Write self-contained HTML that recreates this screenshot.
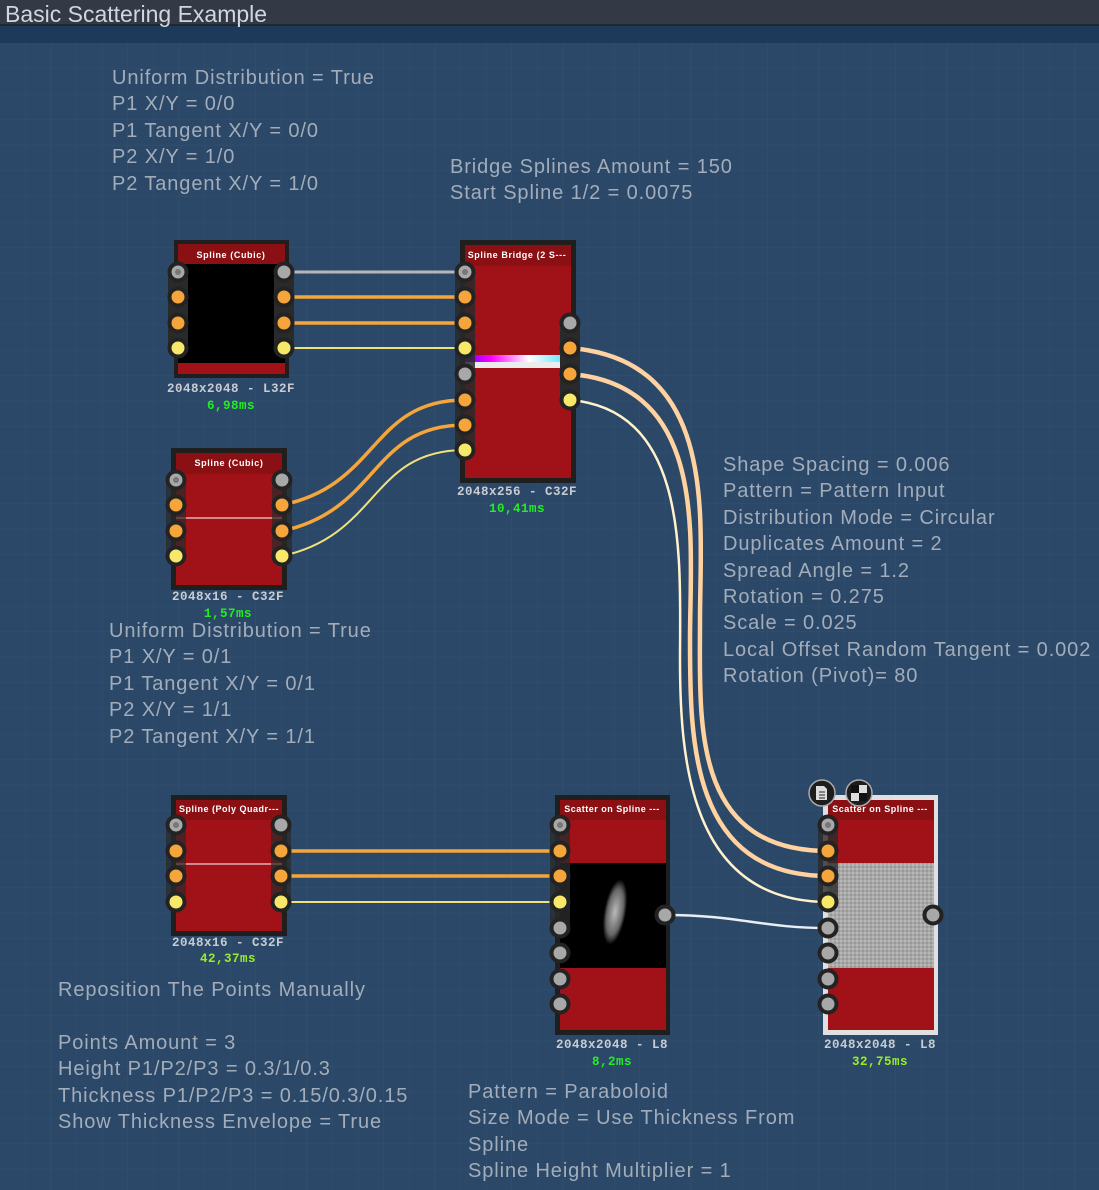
<!DOCTYPE html>
<html><head><meta charset="utf-8"><style>
body{margin:0;width:1099px;height:1190px;overflow:hidden;background:#2b4868;font-family:"Liberation Sans",sans-serif}
.t{position:absolute;color:#a3adba;font-size:20px;line-height:26.4px;letter-spacing:0.9px;white-space:pre;font-weight:300}
</style></head><body>
<svg width="1099" height="1190" style="position:absolute;left:0;top:0">
<defs>
<pattern id="g" width="25.6" height="25.6" patternUnits="userSpaceOnUse" x="0" y="43"><path d="M25.6 0V25.6H0" fill="none" stroke="#33516f" stroke-width="1"/></pattern>
<linearGradient id="rb" x1="0" x2="1"><stop offset="0" stop-color="#6a00ff"/><stop offset="0.25" stop-color="#ff00ff"/><stop offset="0.6" stop-color="#ffffff"/><stop offset="1" stop-color="#40e0ff"/></linearGradient>
<radialGradient id="blob" cx="0.5" cy="0.5" r="0.5"><stop offset="0" stop-color="#bbb"/><stop offset="0.7" stop-color="#666"/><stop offset="1" stop-color="#000"/></radialGradient>
<pattern id="noise" width="4" height="4" patternUnits="userSpaceOnUse"><rect width="4" height="4" fill="#a8a8a8"/><rect width="2" height="2" fill="#b8b8b8"/><rect x="2" y="2" width="2" height="2" fill="#999"/></pattern>
</defs>
<rect width="1099" height="1190" fill="#2b4868"/>
<rect y="43" width="1099" height="1147" fill="url(#g)"/>
<rect width="1099" height="25" fill="#333a45"/>
<rect y="25" width="1099" height="18" fill="#1d3a5a"/>
<line x1="0" y1="25" x2="1099" y2="25" stroke="#11161d"/>
<text x="5" y="22" font-size="23" fill="#d2d6de" font-family="Liberation Sans">Basic Scattering Example</text>

<g fill="none">
<line x1="284" y1="272" x2="465" y2="272" stroke="#b8b8b8" stroke-width="3"/>
<line x1="284" y1="297" x2="465" y2="297" stroke="#f5a53a" stroke-width="3.5"/>
<line x1="284" y1="323" x2="465" y2="323" stroke="#f5a53a" stroke-width="3.5"/>
<line x1="284" y1="348" x2="465" y2="348" stroke="#f3e07a" stroke-width="2"/>
<path d="M282 505C380 485 370 400 465 400" stroke="#f5a53a" stroke-width="3.5"/>
<path d="M282 531C380 510 370 425 465 425" stroke="#f5a53a" stroke-width="3.5"/>
<path d="M282 556C380 535 370 450 465 450" stroke="#f3e07a" stroke-width="2"/>
<path d="M570 348C720 360 700 520 700 620S690 851 828 851" stroke="#ffd2a0" stroke-width="4.5"/>
<path d="M570 374C710 385 690 540 690 640S690 876 828 876" stroke="#ffd2a0" stroke-width="4.5"/>
<path d="M570 400C690 410 680 560 680 660S690 902 828 902" stroke="#fff2cc" stroke-width="2.5"/>
<line x1="281" y1="851" x2="560" y2="851" stroke="#f5a53a" stroke-width="3.5"/>
<line x1="281" y1="876" x2="560" y2="876" stroke="#f5a53a" stroke-width="3.5"/>
<line x1="281" y1="902" x2="560" y2="902" stroke="#f3e07a" stroke-width="2"/>
<path d="M665 915C740 915 760 928 828 928" stroke="#e8eef5" stroke-width="2.5"/>
</g>

<rect x="174" y="240" width="115" height="138" fill="#1f1f1f"/>
<rect x="178" y="244" width="107" height="130" fill="#a01218"/>
<rect x="178" y="244" width="107" height="20" fill="#8a1014"/>
<rect x="178" y="264" width="107" height="99" fill="#000"/>
<text x="231" y="258" font-size="9" font-weight="bold" fill="#fff" text-anchor="middle" letter-spacing="0.6">Spline (Cubic)</text>
<rect x="168" y="262" width="20" height="96" rx="10" fill="#2a2a2a"/>
<rect x="274" y="262" width="20" height="96" rx="10" fill="#2a2a2a"/>
<rect x="460" y="240" width="116" height="243" fill="#1f1f1f"/>
<rect x="465" y="245" width="106" height="233" fill="#a01218"/>
<rect x="465" y="245" width="106" height="21" fill="#8a1014"/>
<rect x="465" y="355" width="106" height="7" fill="url(#rb)"/>
<rect x="465" y="362" width="106" height="6" fill="#ececec"/>
<text x="517" y="258" font-size="9" font-weight="bold" fill="#fff" text-anchor="middle" letter-spacing="0.6">Spline Bridge (2 S---</text>
<rect x="455" y="262" width="20" height="198" rx="10" fill="#2a2a2a" opacity="0.85"/>
<rect x="560" y="313" width="20" height="97" rx="10" fill="#2a2a2a"/>
<rect x="171" y="448" width="116" height="142" fill="#1f1f1f"/>
<rect x="176" y="453" width="106" height="132" fill="#a01218"/>
<rect x="176" y="453" width="106" height="21" fill="#8a1014"/>
<line x1="176" y1="518" x2="282" y2="518" stroke="#fff" stroke-width="1"/>
<text x="229" y="466" font-size="9" font-weight="bold" fill="#fff" text-anchor="middle" letter-spacing="0.6">Spline (Cubic)</text>
<rect x="166" y="470" width="20" height="96" rx="10" fill="#2a2a2a" opacity="0.7"/>
<rect x="272" y="470" width="20" height="96" rx="10" fill="#2a2a2a" opacity="0.7"/>
<rect x="171" y="795" width="116" height="141" fill="#1f1f1f"/>
<rect x="176" y="800" width="106" height="131" fill="#a01218"/>
<rect x="176" y="800" width="106" height="20" fill="#8a1014"/>
<line x1="176" y1="864" x2="282" y2="864" stroke="#fff" stroke-width="1"/>
<text x="229" y="812" font-size="9" font-weight="bold" fill="#fff" text-anchor="middle" letter-spacing="0.5">Spline (Poly Quadr---</text>
<rect x="166" y="815" width="20" height="97" rx="10" fill="#2a2a2a" opacity="0.7"/>
<rect x="271" y="815" width="20" height="97" rx="10" fill="#2a2a2a" opacity="0.7"/>
<rect x="555" y="795" width="115" height="240" fill="#1f1f1f"/>
<rect x="560" y="800" width="106" height="230" fill="#a01218"/>
<rect x="560" y="800" width="106" height="20" fill="#8a1014"/>
<rect x="560" y="863" width="106" height="105" fill="#000"/>
<ellipse cx="615" cy="912" rx="11" ry="33" fill="url(#blob)" transform="rotate(10 615 912)"/>
<text x="612" y="812" font-size="9" font-weight="bold" fill="#fff" text-anchor="middle" letter-spacing="0.5">Scatter on Spline ---</text>
<rect x="550" y="815" width="20" height="120" rx="10" fill="#2a2a2a" opacity="0.8"/>
<rect x="823" y="795" width="115" height="240" fill="#e0e0e0"/>
<rect x="828" y="800" width="106" height="230" fill="#a01218"/>
<rect x="828" y="800" width="106" height="20" fill="#8a1014"/>
<rect x="828" y="863" width="106" height="105" fill="url(#noise)"/>
<text x="880" y="812" font-size="9" font-weight="bold" fill="#fff" text-anchor="middle" letter-spacing="0.5">Scatter on Spline ---</text>
<rect x="818" y="815" width="20" height="97" rx="10" fill="#2a2a2a" opacity="0.8"/>
<circle cx="822" cy="793" r="13" fill="#1e1e1e" stroke="#aaa" stroke-width="1.5"/>
<path d="M816 786h8l3 3v11h-11z" fill="#ddd"/><path d="M819 792h6M819 795h6M819 798h6" stroke="#222" stroke-width="1"/>
<circle cx="859" cy="793" r="13" fill="#1e1e1e" stroke="#aaa" stroke-width="1.5"/>
<rect x="851" y="785" width="16" height="16" fill="#ddd"/><rect x="851" y="785" width="8" height="8" fill="#111"/><rect x="859" y="793" width="8" height="8" fill="#111"/>

<g stroke="#232323" stroke-width="4">
<circle cx="178" cy="272" r="8.5" fill="#a8a8a8"/><circle cx="178" cy="297" r="8.5" fill="#f5a53a"/><circle cx="178" cy="323" r="8.5" fill="#f5a53a"/><circle cx="178" cy="348" r="8.5" fill="#f8e86a"/>
<circle cx="284" cy="272" r="8.5" fill="#a8a8a8"/><circle cx="284" cy="297" r="8.5" fill="#f5a53a"/><circle cx="284" cy="323" r="8.5" fill="#f5a53a"/><circle cx="284" cy="348" r="8.5" fill="#f8e86a"/>
<circle cx="465" cy="272" r="8.5" fill="#a8a8a8"/><circle cx="465" cy="297" r="8.5" fill="#f5a53a"/><circle cx="465" cy="323" r="8.5" fill="#f5a53a"/><circle cx="465" cy="348" r="8.5" fill="#f8e86a"/>
<circle cx="465" cy="374" r="8.5" fill="#a8a8a8"/><circle cx="465" cy="400" r="8.5" fill="#f5a53a"/><circle cx="465" cy="425" r="8.5" fill="#f5a53a"/><circle cx="465" cy="450" r="8.5" fill="#f8e86a"/>
<circle cx="570" cy="323" r="8.5" fill="#a8a8a8"/><circle cx="570" cy="348" r="8.5" fill="#f5a53a"/><circle cx="570" cy="374" r="8.5" fill="#f5a53a"/><circle cx="570" cy="400" r="8.5" fill="#f8e86a"/>
<circle cx="176" cy="480" r="8.5" fill="#a8a8a8"/><circle cx="176" cy="505" r="8.5" fill="#f5a53a"/><circle cx="176" cy="531" r="8.5" fill="#f5a53a"/><circle cx="176" cy="556" r="8.5" fill="#f8e86a"/>
<circle cx="282" cy="480" r="8.5" fill="#a8a8a8"/><circle cx="282" cy="505" r="8.5" fill="#f5a53a"/><circle cx="282" cy="531" r="8.5" fill="#f5a53a"/><circle cx="282" cy="556" r="8.5" fill="#f8e86a"/>
<circle cx="176" cy="825" r="8.5" fill="#a8a8a8"/><circle cx="176" cy="851" r="8.5" fill="#f5a53a"/><circle cx="176" cy="876" r="8.5" fill="#f5a53a"/><circle cx="176" cy="902" r="8.5" fill="#f8e86a"/>
<circle cx="281" cy="825" r="8.5" fill="#a8a8a8"/><circle cx="281" cy="851" r="8.5" fill="#f5a53a"/><circle cx="281" cy="876" r="8.5" fill="#f5a53a"/><circle cx="281" cy="902" r="8.5" fill="#f8e86a"/>
<circle cx="560" cy="825" r="8.5" fill="#a8a8a8"/><circle cx="560" cy="851" r="8.5" fill="#f5a53a"/><circle cx="560" cy="876" r="8.5" fill="#f5a53a"/><circle cx="560" cy="902" r="8.5" fill="#f8e86a"/>
<circle cx="560" cy="928" r="8.5" fill="#a8a8a8"/><circle cx="560" cy="953" r="8.5" fill="#a8a8a8"/><circle cx="560" cy="979" r="8.5" fill="#a8a8a8"/><circle cx="560" cy="1004" r="8.5" fill="#a8a8a8"/>
<circle cx="665" cy="915" r="8.5" fill="#a8a8a8"/>
<circle cx="828" cy="825" r="8.5" fill="#a8a8a8"/><circle cx="828" cy="851" r="8.5" fill="#f5a53a"/><circle cx="828" cy="876" r="8.5" fill="#f5a53a"/><circle cx="828" cy="902" r="8.5" fill="#f8e86a"/>
<circle cx="828" cy="928" r="8.5" fill="#a8a8a8"/><circle cx="828" cy="953" r="8.5" fill="#a8a8a8"/><circle cx="828" cy="979" r="8.5" fill="#a8a8a8"/><circle cx="828" cy="1004" r="8.5" fill="#a8a8a8"/>
<circle cx="933" cy="915" r="8.5" fill="#a8a8a8"/>
</g>
<g fill="#777"><circle cx="178" cy="272" r="3"/><circle cx="465" cy="272" r="3"/><circle cx="176" cy="480" r="3"/><circle cx="176" cy="825" r="3"/><circle cx="560" cy="825" r="3"/><circle cx="828" cy="825" r="3"/></g>

<g font-family="Liberation Mono" font-size="12.5" font-weight="bold" text-anchor="middle" letter-spacing="0.5">
<text x="231" y="392" fill="#c8ccd2">2048x2048 - L32F</text><text x="231" y="409" fill="#22ee22">6,98ms</text>
<text x="517" y="495" fill="#c8ccd2">2048x256 - C32F</text><text x="517" y="512" fill="#22ee22">10,41ms</text>
<text x="228" y="600" fill="#c8ccd2">2048x16 - C32F</text><text x="228" y="617" fill="#22ee22">1,57ms</text>
<text x="228" y="946" fill="#c8ccd2">2048x16 - C32F</text><text x="228" y="962" fill="#99ee22">42,37ms</text>
<text x="612" y="1048" fill="#c8ccd2">2048x2048 - L8</text><text x="612" y="1065" fill="#22ee22">8,2ms</text>
<text x="880" y="1048" fill="#c8ccd2">2048x2048 - L8</text><text x="880" y="1065" fill="#99ee22">32,75ms</text>
</g>
</svg>
<div class="t" style="left:112px;top:65px">Uniform Distribution = True
P1 X/Y = 0/0
P1 Tangent X/Y = 0/0
P2 X/Y = 1/0
P2 Tangent X/Y = 1/0</div>
<div class="t" style="left:450px;top:154px">Bridge Splines Amount = 150
Start Spline 1/2 = 0.0075</div>
<div class="t" style="left:723px;top:452px">Shape Spacing = 0.006
Pattern = Pattern Input
Distribution Mode = Circular
Duplicates Amount = 2
Spread Angle = 1.2
Rotation = 0.275
Scale = 0.025
Local Offset Random Tangent = 0.002
Rotation (Pivot)= 80</div>
<div class="t" style="left:109px;top:618px">Uniform Distribution = True
P1 X/Y = 0/1
P1 Tangent X/Y = 0/1
P2 X/Y = 1/1
P2 Tangent X/Y = 1/1</div>
<div class="t" style="left:58px;top:977px">Reposition The Points Manually

Points Amount = 3
Height P1/P2/P3 = 0.3/1/0.3
Thickness P1/P2/P3 = 0.15/0.3/0.15
Show Thickness Envelope = True</div>
<div class="t" style="left:468px;top:1079px">Pattern = Paraboloid
Size Mode = Use Thickness From
Spline
Spline Height Multiplier = 1</div>
</body></html>
